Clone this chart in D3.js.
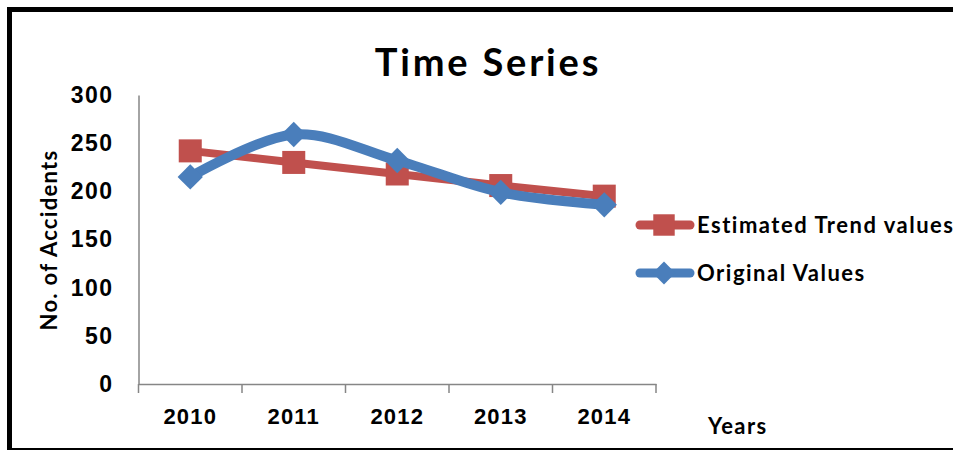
<!DOCTYPE html>
<html>
<head>
<meta charset="utf-8">
<script src="https://cdn.jsdelivr.net/npm/d3@7/dist/d3.min.js"></script>
<style>
  body { margin: 0; background: #fff; }
  svg { display: block; font-family: Lato, "Open Sans", sans-serif; font-weight: bold; }
</style>
</head>
<body>
<svg id="chart" width="953" height="450"></svg>
<script>
const years = ["2010", "2011", "2012", "2013", "2014"];
const trendValues = [242, 230, 218, 206, 195];
const originalValues = [215, 259, 232, 199, 186];
const yTicks = [0, 50, 100, 150, 200, 250, 300];

const red = "#C0504D";
const blue = "#4A7EBB";
const axisGrey = "#868686";

const svg = d3.select("#chart");

// outer frame (right side runs off the picture)
svg.append("rect")
  .attr("x", 9.5).attr("y", 9.5)
  .attr("width", 1000).attr("height", 441)
  .attr("fill", "none")
  .attr("stroke", "#000")
  .attr("stroke-width", 5);

const plot = {left: 138.5, right: 656, top: 95, bottom: 384};

const x = d3.scaleBand().domain(years).range([plot.left, plot.right]).padding(0);
const y = d3.scaleLinear().domain([0, 300]).range([plot.bottom, plot.top]);
const cx = d => x(d) + x.bandwidth() / 2;

// title
svg.append("text")
  .attr("x", 488).attr("y", 76)
  .attr("text-anchor", "middle")
  .attr("font-size", 38)
  .attr("letter-spacing", 2.8)
  .text("Time Series");

// y axis
const gy = svg.append("g")
  .attr("transform", "translate(" + plot.left + ",0)")
  .call(d3.axisLeft(y).tickValues(yTicks).tickSize(0).tickPadding(25));
gy.select(".domain").attr("stroke", axisGrey).attr("stroke-width", 1.5);
gy.selectAll("text")
  .attr("font-size", 23).attr("font-family", null).attr("fill", "#000")
  .attr("letter-spacing", 1.5);

// x axis
const gx = svg.append("g")
  .attr("transform", "translate(0," + plot.bottom + ")")
  .call(d3.axisBottom(x).tickSize(0).tickPadding(24));
gx.select(".domain").attr("stroke", axisGrey).attr("stroke-width", 1.5);
gx.selectAll("text")
  .attr("font-size", 22).attr("font-family", null).attr("fill", "#000")
  .attr("letter-spacing", 1.2);

// ticks on category boundaries
gx.selectAll("line.bound")
  .data(years.map(d => x(d)).concat([plot.right]))
  .join("line")
  .attr("class", "bound")
  .attr("x1", d => d).attr("x2", d => d)
  .attr("y1", 0).attr("y2", 9)
  .attr("stroke", axisGrey)
  .attr("stroke-width", 1.5);

// axis titles
svg.append("text")
  .attr("transform", "translate(57,240) rotate(-90)")
  .attr("text-anchor", "middle")
  .attr("font-size", 22)
  .attr("letter-spacing", 1.3)
  .text("No. of Accidents");

svg.append("text")
  .attr("x", 708).attr("y", 434)
  .attr("font-size", 22)
  .attr("letter-spacing", 1.4)
  .text("Years");

// series
const trend = years.map((d, i) => ({year: d, v: trendValues[i]}));
const orig = years.map((d, i) => ({year: d, v: originalValues[i]}));

svg.append("path")
  .datum(trend)
  .attr("fill", "none")
  .attr("stroke", red)
  .attr("stroke-width", 8)
  .attr("stroke-linejoin", "round")
  .attr("stroke-linecap", "round")
  .attr("d", d3.line().x(d => cx(d.year)).y(d => y(d.v)));

svg.selectAll("path.sq")
  .data(trend)
  .join("path")
  .attr("class", "sq")
  .attr("fill", red)
  .attr("transform", d => "translate(" + cx(d.year) + "," + y(d.v) + ")")
  .attr("d", d3.symbol(d3.symbolSquare, 530));

svg.append("path")
  .datum(orig)
  .attr("fill", "none")
  .attr("stroke", blue)
  .attr("stroke-width", 10)
  .attr("stroke-linejoin", "round")
  .attr("stroke-linecap", "round")
  .attr("d", d3.line().curve(d3.curveCardinal.tension(0)).x(d => cx(d.year)).y(d => y(d.v)));

svg.selectAll("path.dm")
  .data(orig)
  .join("path")
  .attr("class", "dm")
  .attr("fill", blue)
  .attr("transform", d => "translate(" + cx(d.year) + "," + y(d.v) + ") rotate(45)")
  .attr("d", d3.symbol(d3.symbolSquare, 320));

// legend
const legend = [
  {label: "Estimated Trend values", color: red, y: 225, diamond: false},
  {label: "Original Values", color: blue, y: 273, diamond: true}
];
const lg = svg.selectAll("g.lg").data(legend).join("g")
  .attr("class", "lg")
  .attr("transform", d => "translate(0," + d.y + ")");
lg.append("line")
  .attr("x1", 640).attr("x2", 690)
  .attr("stroke", d => d.color)
  .attr("stroke-width", 9)
  .attr("stroke-linecap", "round");
lg.append("path")
  .attr("fill", d => d.color)
  .attr("transform", d => "translate(664,0)" + (d.diamond ? " rotate(45)" : ""))
  .attr("d", d => d3.symbol(d3.symbolSquare, d.diamond ? 260 : 460)());
lg.append("text")
  .attr("x", 697).attr("y", 8)
  .attr("font-size", 22)
  .attr("letter-spacing", 1.5)
  .text(d => d.label);
</script>
</body>
</html>
